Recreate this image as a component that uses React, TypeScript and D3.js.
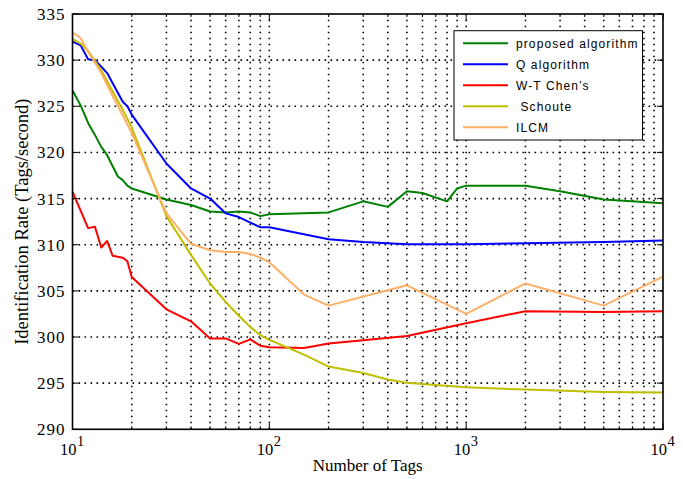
import React from 'react';
import * as d3 from 'd3';

// number of tags (x) and identification rate (y)
const proposedX = [10, 11, 12, 13, 14, 15, 16, 17, 18, 19, 20, 30, 40, 50, 60, 70, 80, 90, 100, 200, 300, 400, 500, 600, 800, 900, 1000, 2000, 3000, 5000, 10000];
const proposedY = [326.7, 325.1, 323.2, 321.9, 320.6, 319.7, 318.5, 317.4, 317.0, 316.4, 316.1, 314.9, 314.3, 313.6, 313.5, 313.6, 313.5, 313.1, 313.3, 313.5, 314.7, 314.1, 315.8, 315.6, 314.7, 316.1, 316.4, 316.4, 315.8, 314.9, 314.5];

const qX = [10, 11, 12, 13, 14, 15, 16, 18, 19, 20, 30, 40, 50, 60, 70, 80, 90, 100, 200, 300, 500, 1000, 2000, 5000, 10000];
const qY = [332.0, 331.6, 330.1, 330.0, 329.3, 328.6, 327.5, 325.5, 325.0, 324.1, 318.8, 316.1, 315.0, 313.4, 313.0, 312.4, 311.9, 311.9, 310.6, 310.3, 310.05, 310.05, 310.15, 310.3, 310.45];

const chenX = [10, 12, 13, 14, 15, 16, 18, 19, 20, 30, 40, 50, 60, 70, 80, 90, 100, 150, 200, 300, 500, 1000, 2000, 5000, 10000];
const chenY = [315.75, 311.8, 311.95, 309.7, 310.4, 308.8, 308.6, 308.2, 306.5, 303.0, 301.7, 299.85, 299.85, 299.25, 299.75, 299.05, 298.9, 298.8, 299.3, 299.65, 300.1, 301.5, 302.8, 302.7, 302.8];

const schouteX = [10, 11, 12, 14, 16, 18, 20, 30, 40, 50, 60, 70, 80, 90, 100, 150, 200, 300, 400, 500, 700, 1000, 2000, 5000, 10000];
const schouteY = [332.3, 331.8, 331.0, 328.9, 326.6, 324.6, 322.7, 313.1, 308.9, 305.8, 303.8, 302.3, 301.1, 300.2, 299.7, 298.1, 296.8, 296.1, 295.4, 295.05, 294.8, 294.55, 294.3, 294.05, 294.0];

const ilcmX = [10, 11, 12, 14, 16, 18, 20, 30, 40, 50, 60, 70, 80, 90, 100, 150, 200, 500, 1000, 2000, 5000, 10000];
const ilcmY = [333.0, 332.4, 330.9, 328.6, 326.1, 324.0, 322.1, 313.4, 310.1, 309.4, 309.2, 309.2, 309.0, 308.6, 308.1, 304.6, 303.4, 305.6, 302.5, 305.8, 303.4, 306.55];

const seriesNames = ['proposed algorithm', 'Q algorithm', 'W-T Chen\u2019s', ' Schoute', 'ILCM'];
const seriesColors = ['#008000', '#0000ff', '#ff0000', '#bfbf00', '#ffb066'];
const seriesData = [
  [proposedX, proposedY],
  [qX, qY],
  [chenX, chenY],
  [schouteX, schouteY],
  [ilcmX, ilcmY],
];

const yTicks = [290, 295, 300, 305, 310, 315, 320, 325, 330, 335];
const xDecades = [1, 2, 3, 4];

const W = 683;
const H = 479;
const left = 72.5;
const right = 663;
const top = 14;
const bottom = 429.3;

export default function App() {
  const x = d3.scaleLog().domain([10, 10000]).range([left, right]);
  const y = d3.scaleLinear().domain([290, 335]).range([bottom, top]);

  const minor: number[] = [];
  for (let d = 1; d < 4; d++) {
    for (let m = 1; m <= 9; m++) minor.push(m * Math.pow(10, d));
  }
  minor.push(10000);

  const line = d3.line<[number, number]>().x(d => x(d[0])).y(d => y(d[1]));

  const serif = '"Liberation Serif", "Times New Roman", serif';
  const sans = '"Liberation Sans", Arial, sans-serif';

  return (
    <svg width={W} height={H} style={{ position: 'absolute', left: 0, top: 0, background: '#fff' }}>
      <rect x={0} y={0} width={W} height={H} fill="#fff" />
      {/* grid */}
      <g stroke="#000" strokeWidth={1.6} strokeDasharray="1.6 4.4" fill="none">
        {minor.filter(v => v > 10 && v < 10000).map(v => (
          <line key={'gx' + v} x1={x(v)} x2={x(v)} y1={bottom} y2={top} />
        ))}
        {yTicks.filter(v => v > 290 && v < 335).map(v => (
          <line key={'gy' + v} x1={left} x2={right} y1={y(v)} y2={y(v)} />
        ))}
      </g>
      {/* series */}
      <g fill="none" strokeWidth={2} strokeLinejoin="round">
        {seriesData.map((s, i) => (
          <path key={i} d={line(s[0].map((v, j) => [v, s[1][j]] as [number, number])) || ''} stroke={seriesColors[i]} />
        ))}
      </g>
      {/* ticks */}
      <g stroke="#000" strokeWidth={1}>
        {minor.map(v => {
          const len = xDecades.some(e => Math.pow(10, e) === v) ? 6 : 3;
          return (
            <g key={'tx' + v}>
              <line x1={x(v)} x2={x(v)} y1={bottom} y2={bottom - len} />
              <line x1={x(v)} x2={x(v)} y1={top} y2={top + len} />
            </g>
          );
        })}
        {yTicks.map(v => (
          <g key={'ty' + v}>
            <line x1={left} x2={left + 6} y1={y(v)} y2={y(v)} />
            <line x1={right} x2={right - 6} y1={y(v)} y2={y(v)} />
          </g>
        ))}
      </g>
      <rect x={left} y={top} width={right - left} height={bottom - top} fill="none" stroke="#000" strokeWidth={1.6} />
      {/* tick labels */}
      <g fontFamily={serif} fontSize={17} fill="#000">
        {yTicks.map(v => (
          <text key={'ly' + v} x={left - 7} y={y(v) + 6} textAnchor="end" letterSpacing={1}>{v}</text>
        ))}
        {xDecades.map(e => (
          <g key={'lx' + e}>
            <text x={x(Math.pow(10, e)) + 4} y={455} textAnchor="end" fontSize={16.5}>10</text>
            <text x={x(Math.pow(10, e)) + 4.5} y={446} fontSize={14.5}>{e}</text>
          </g>
        ))}
      </g>
      {/* axis titles */}
      <text x={(left + right) / 2} y={471} textAnchor="middle" fontFamily={serif} fontSize={17}>Number of Tags</text>
      <text transform={`translate(28, ${(top + bottom) / 2}) rotate(-90)`} textAnchor="middle" fontFamily={serif} fontSize={18.5}>
        Identification Rate (Tags/second)
      </text>
      {/* legend */}
      <g>
        <rect x={454} y={30.7} width={188.5} height={109.3} fill="#fff" stroke="#000" strokeWidth={1} />
        {seriesNames.map((n, i) => {
          const cy = 43.3 + i * 21;
          return (
            <g key={n}>
              <line x1={463} x2={508} y1={cy} y2={cy} stroke={seriesColors[i]} strokeWidth={2} />
              <text x={516} y={cy + 4.3} fontFamily={sans} fontSize={12} letterSpacing={1.1} style={{ whiteSpace: 'pre' }}>{n}</text>
            </g>
          );
        })}
      </g>
    </svg>
  );
}
